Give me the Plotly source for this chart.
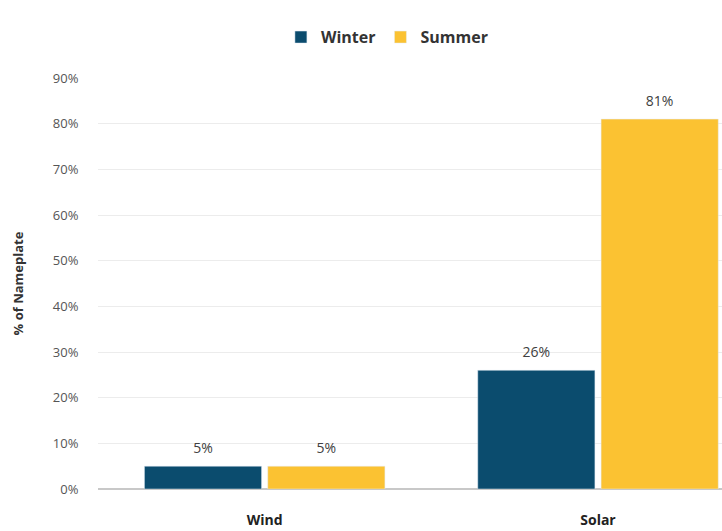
import plotly.graph_objects as go

categories = ["Wind", "Solar"]
winter = [0.05, 0.26]
summer = [0.05, 0.81]
tick_vals = [0, 0.1, 0.2, 0.3, 0.4, 0.5, 0.6, 0.7, 0.8, 0.9]
tick_text = ["0%", "10%", "20%", "30%", "40%", "50%", "60%", "70%", "80%", "90%"]

fig = go.Figure()
fig.add_trace(go.Bar(
    name="<b>Winter</b>", x=categories, y=winter, marker_color="#0B4C6E",
    offsetgroup="w", legendrank=1,
))
fig.add_trace(go.Bar(
    name="<b>Summer</b>", x=categories, y=summer, marker_color="#FBC232",
    offsetgroup="s", legendrank=2,
))
for vals, grp in [(winter, "w"), (summer, "s")]:
    fig.add_trace(go.Scatter(
        x=categories, y=vals, mode="markers+text", offsetgroup=grp,
        text=[f"{round(v*100)}%" for v in vals], textposition="top center",
        marker=dict(size=14, opacity=0), showlegend=False, hoverinfo="skip",
        textfont=dict(size=14, color="#404040", family="Open Sans"), cliponaxis=False,
    ))

fig.update_layout(
    width=722, height=531,
    margin=dict(l=98, r=0, t=78, b=42),
    paper_bgcolor="white", plot_bgcolor="white",
    barmode="group", bargap=0.26, bargroupgap=0.05,
    scattermode="group", scattergap=0.26,
    font=dict(family="Open Sans", color="#404040"),
    legend=dict(orientation="h", x=0.463, xanchor="center", y=0.93, yanchor="middle",
                yref="container", font=dict(size=16, color="#333333", family="Open Sans"),
                itemwidth=30, traceorder="normal"),
    showlegend=True,
)
fig.update_xaxes(range=[-0.5, 1.372], showgrid=False, showline=False,
                 tickfont=dict(size=14, color="#222222", family="Open Sans"),
                 ticks="outside", ticklen=18, tickcolor="rgba(0,0,0,0)")
fig.update_xaxes(tickvals=[0, 1], ticktext=["<b>Wind</b>", "<b>Solar</b>"])
fig.update_yaxes(range=[0, 0.9], tickvals=tick_vals, ticktext=tick_text,
                 showgrid=True, gridcolor="#ECECEC", zeroline=True, zerolinecolor="#C8C8C8",
                 tickfont=dict(size=13, color="#555555", family="Open Sans"),
                 ticks="outside", ticklen=16, tickcolor="rgba(0,0,0,0)",
                 title=dict(text="<b>% of Nameplate</b>", font=dict(size=13, color="#333333", family="Open Sans"), standoff=26))

fig.write_html("out.html")
